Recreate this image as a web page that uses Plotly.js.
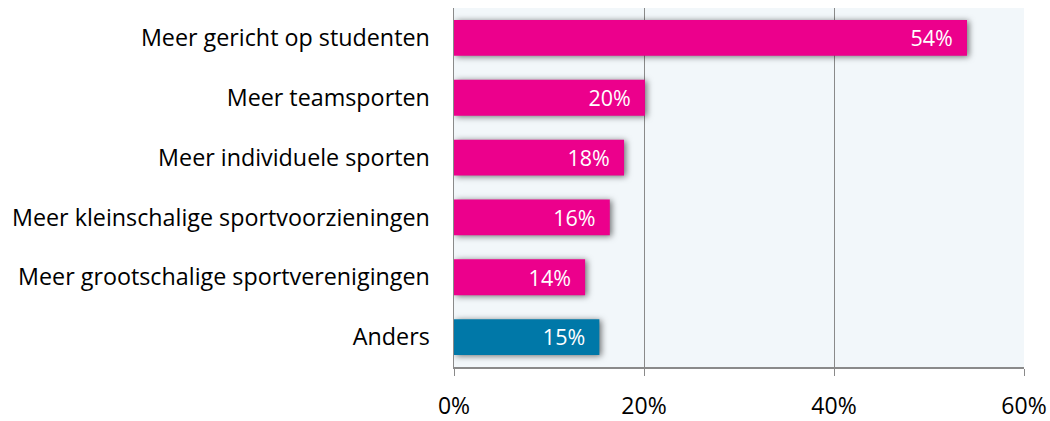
<!DOCTYPE html>
<html>
<head>
<meta charset="utf-8">
<script src="https://cdn.plot.ly/plotly-3.0.1.min.js"></script>
<style>
html,body{margin:0;padding:0;background:#fff;}
#chart{width:1050px;height:421px;}
</style>
</head>
<body>
<div id="chart"></div>
<script>
const categories = [
  "Meer gericht op studenten",
  "Meer teamsporten",
  "Meer individuele sporten",
  "Meer kleinschalige sportvoorzieningen",
  "Meer grootschalige sportverenigingen",
  "Anders"
];
const values = [54, 20.1, 17.9, 16.4, 13.8, 15.3];
const barColors = ["#ec008c", "#ec008c", "#ec008c", "#ec008c", "#ec008c", "#0078a8"];
const xTicks = [0, 20, 40, 60];
const xTickLabels = ["0%", "20%", "40%", "60%"];

const font = "'Open Sans', sans-serif";

const trace = {
  type: "bar",
  orientation: "h",
  x: values,
  y: categories,
  marker: {color: barColors, line: {width: 0}},
  texttemplate: "%{x:.0f}%\u00a0\u00a0",
  textposition: "inside",
  insidetextanchor: "end",
  textfont: {color: "#ffffff", size: 23, family: font},
  hoverinfo: "none",
  cliponaxis: false
};

const layout = {
  width: 1050,
  height: 421,
  margin: {l: 454, r: 26, t: 8, b: 54},
  paper_bgcolor: "#ffffff",
  plot_bgcolor: "#f2f7fa",
  bargap: 0.4,
  showlegend: false,
  font: {family: font, color: "#000000", size: 23},
  xaxis: {
    range: [0, 60],
    tickvals: xTicks,
    ticktext: xTickLabels,
    showgrid: true,
    gridcolor: "#8a8a8a",
    gridwidth: 1,
    zeroline: false,
    showline: true,
    linecolor: "#8a8a8a",
    linewidth: 1.5,
    ticks: "outside",
    ticklen: 7,
    tickcolor: "#8a8a8a",
    ticklabelstandoff: 11,
    tickfont: {size: 23, family: font, color: "#000"},
    fixedrange: true
  },
  yaxis: {
    autorange: "reversed",
    showgrid: false,
    zeroline: false,
    showline: true,
    linecolor: "#8a8a8a",
    linewidth: 1.5,
    ticks: "",
    ticklabelstandoff: 18,
    tickfont: {size: 23.3, family: font, color: "#000"},
    fixedrange: true
  }
};

Plotly.newPlot("chart", [trace], layout, {displayModeBar: false, staticPlot: true}).then(function () {
  document.querySelectorAll("#chart .bars .point path").forEach(function (p) {
    p.style.filter = "drop-shadow(2px 1px 3px rgba(0,0,0,0.55))";
  });
});
</script>
</body>
</html>
